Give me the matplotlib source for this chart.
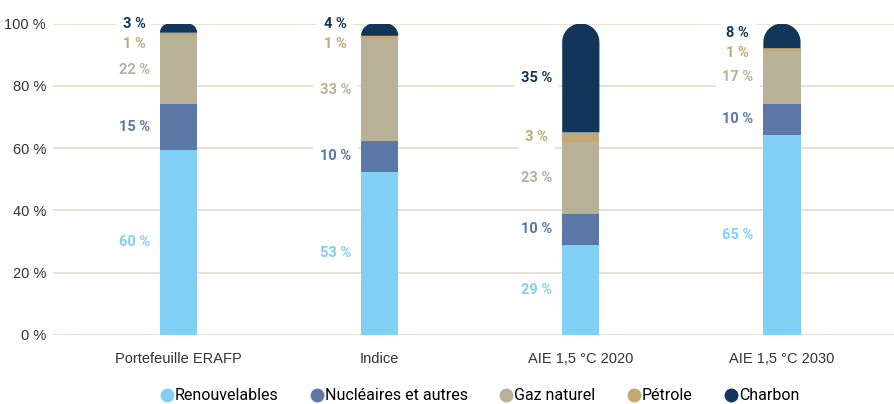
import numpy as np
import matplotlib
matplotlib.use("Agg")
import matplotlib.pyplot as plt
from matplotlib.patches import Polygon
from matplotlib.lines import Line2D

categories = ["Portefeuille ERAFP", "Indice", "AIE 1,5 °C 2020", "AIE 1,5 °C 2030"]
series = ["Renouvelables", "Nucléaires et autres", "Gaz naturel", "Pétrole", "Charbon"]
renouvelables = [60, 53, 29, 65]
nucleaires = [15, 10, 10, 10]
gaz = [22, 33, 23, 17]
petrole = [1, 1, 3, 1]
charbon = [3, 4, 35, 8]
yticks = [0, 20, 40, 60, 80, 100]

colors = ["#82cff5", "#5b78a6", "#b9b098", "#c4a874", "#12365a"]
grid_color = "#e8dcc8"

values = np.array([renouvelables, nucleaires, gaz, petrole, charbon], dtype=float)
# bars are drawn on a 100 % scale (rounded labels may add up to 101)
heights = values / values.sum(axis=0) * 100

W, H = 895, 404
fig = plt.figure(figsize=(W / 100, H / 100), dpi=100)
ax_l, ax_b, ax_w, ax_h = 53, 69, 842, 311.5
ax = fig.add_axes([ax_l / W, ax_b / H, ax_w / W, ax_h / H])

x = np.arange(len(categories))
xlim = (-0.624, 3.562)
ax.set_xlim(*xlim)
ax.set_ylim(0, 100)
bar_w = 0.185

for t in yticks:
    ax.axhline(t, color=grid_color, lw=1.2, zorder=0)

px_x = ax_w / (xlim[1] - xlim[0])
px_y = ax_h / 100.0


def rounded_top(x0, x1, y0, y1, color):
    w_px = (x1 - x0) * px_x
    h_px = (y1 - y0) * px_y
    r = min(w_px / 2, h_px)
    rx, ry = r / px_x, r / px_y
    th = np.linspace(np.pi, np.pi / 2, 20)
    left = np.column_stack([x0 + rx + rx * np.cos(th), y1 - ry + ry * np.sin(th)])
    th2 = np.linspace(np.pi / 2, 0, 20)
    right = np.column_stack([x1 - rx + rx * np.cos(th2), y1 - ry + ry * np.sin(th2)])
    pts = np.vstack([[x0, y0], left, right, [x1, y0]])
    ax.add_patch(Polygon(pts, closed=True, facecolor=color, edgecolor="none", zorder=2))


def spread(pos, gap=6.5, top=100):
    pos = list(pos)
    for _ in range(30):
        for i in range(len(pos) - 1):
            d = pos[i + 1] - pos[i]
            if d < gap:
                m = (gap - d) / 2
                pos[i] -= m
                pos[i + 1] += m
        pos = [min(p, top) for p in pos]
        for i in range(len(pos) - 2, -1, -1):
            if pos[i + 1] - pos[i] < gap and pos[i + 1] >= top:
                pos[i] = pos[i + 1] - gap
    return pos


for j, xc in enumerate(x):
    bottom = 0.0
    centers = []
    for i in range(len(series)):
        h = heights[i, j]
        if i == len(series) - 1:
            rounded_top(xc - bar_w / 2, xc + bar_w / 2, bottom, bottom + h, colors[i])
        else:
            ax.bar(xc, h, bottom=bottom, width=bar_w, color=colors[i], lw=0, zorder=2)
        centers.append(bottom + h / 2)
        bottom += h
    for i, yp in enumerate(spread(centers)):
        ax.text(xc - 0.22, yp, f"{int(values[i, j])} %", ha="center", va="center",
                color=colors[i], fontsize=10.5, fontfamily="Roboto", fontweight="bold",
                zorder=3, bbox=dict(boxstyle="square,pad=0.45", fc="white", ec="none"))

ax.set_xticks(x)
ax.set_xticklabels(categories, fontsize=10.5, color="#333333", fontfamily="Liberation Sans")
ax.set_yticks(yticks)
ax.set_yticklabels([f"{t} %" for t in yticks], fontsize=10.5, color="#333333",
                   fontfamily="Liberation Sans")
ax.tick_params(axis="x", length=0, pad=12)
ax.tick_params(axis="y", length=0, pad=5)
for s in ax.spines.values():
    s.set_visible(False)

handles = [Line2D([], [], marker="o", ls="none", markersize=10, markerfacecolor=c,
                  markeredgecolor="none") for c in colors]
fig.legend(handles, series, loc="center", bbox_to_anchor=(0.536, 0.02), ncol=5,
           frameon=False, handletextpad=0.1, columnspacing=2.0, handlelength=0.8,
           prop={"family": "Roboto", "size": 11.5})

fig.savefig("out.png", dpi=100)
